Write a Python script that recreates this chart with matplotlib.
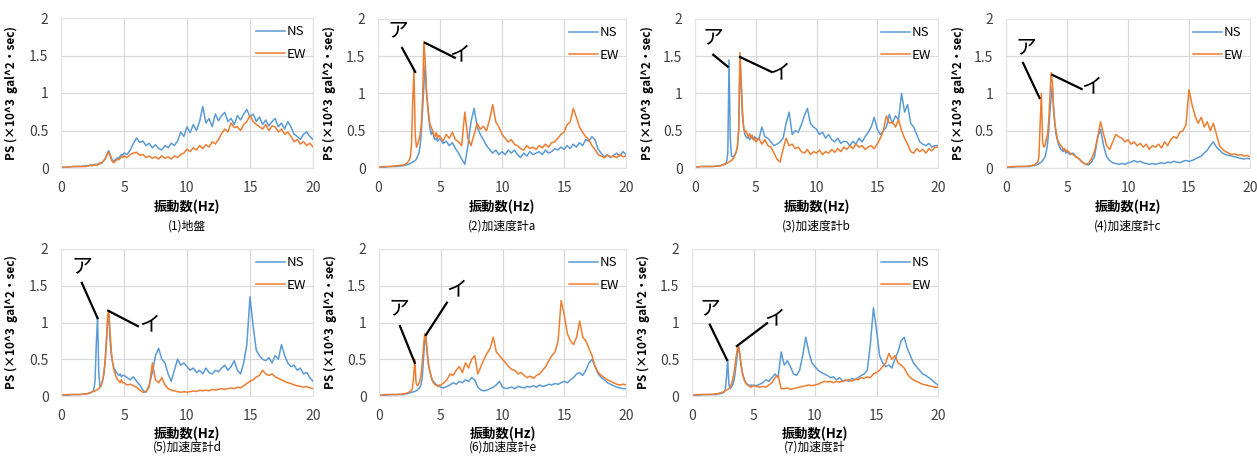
import numpy as np
import matplotlib
matplotlib.use("Agg")
import matplotlib.pyplot as plt

plt.rcParams['font.family'] = ['Noto Sans CJK JP', 'DejaVu Sans']

# frequency grid (Hz): coarse below 2 Hz, fine 2-5 Hz, 0.25 Hz above 5 Hz
freq = np.concatenate([np.arange(0, 2.0, 0.5),
                       np.round(np.arange(2.0, 4.95, 0.1), 1),
                       np.arange(5.0, 20.01, 0.25)])

captions = ['(1)地盤', '(2)加速度計a', '(3)加速度計b', '(4)加速度計c',
            '(5)加速度計d', '(6)加速度計e', '(7)加速度計']

# ---- (1) ground ----
ns1 = [.01, .01, .02, .02,
       .03, .03, .03, .04, .03, .04, .04, .05, .04, .05,
       .06, .07, .06, .08, .10, .12, .16, .21, .23, .18,
       .13, .10, .09, .11, .12, .14, .13, .16, .18, .17,
       .20, .18, .24, .33, .40, .34, .36, .30, .33, .27,
       .31, .26, .24, .30, .27, .33, .30, .36, .48, .42,
       .55, .47, .58, .50, .62, .82, .60, .66, .55, .72,
       .63, .70, .74, .62, .66, .58, .70, .64, .72, .78,
       .68, .72, .62, .68, .58, .64, .56, .62, .66, .55,
       .60, .52, .62, .55, .45, .42, .38, .45, .48, .42,
       .38]
ew1 = [.01, .01, .02, .02,
       .02, .03, .03, .03, .04, .03, .04, .04, .05, .04,
       .05, .06, .07, .08, .10, .12, .16, .19, .21, .16,
       .11, .08, .07, .09, .10, .12, .11, .13, .15, .14,
       .16, .14, .18, .20, .21, .17, .18, .14, .16, .13,
       .15, .12, .16, .13, .15, .12, .16, .14, .18, .20,
       .25, .22, .27, .24, .30, .26, .31, .28, .35, .32,
       .38, .46, .52, .48, .60, .54, .55, .50, .58, .62,
       .70, .62, .58, .55, .52, .58, .50, .56, .55, .48,
       .52, .45, .48, .42, .35, .38, .32, .35, .30, .33,
       .28]

# ---- (2) accelerometer a ----
ns2 = [.01, .01, .02, .02,
       .03, .03, .04, .04, .05, .05, .06, .07, .08, .09,
       .10, .12, .16, .20, .30, .50, .80, 1.10, 1.38, 1.05,
       .85, .65, .52, .45, .50, .42, .38, .40, .36, .38,
       .40, .33, .36, .30, .34, .26, .20, .12, .05, .30,
       .62, .80, .55, .45, .38, .30, .25, .20, .24, .18,
       .22, .18, .24, .20, .24, .18, .14, .20, .16, .22,
       .18, .20, .22, .18, .24, .20, .22, .26, .24, .28,
       .25, .30, .26, .32, .28, .34, .30, .38, .36, .42,
       .38, .25, .20, .15, .18, .14, .17, .20, .16, .22,
       .18]
ew2 = [.01, .02, .02, .03,
       .04, .04, .05, .06, .08, .10, .14, .30, .90, 1.30,
       .45, .28, .32, .38, .45, .60, .95, 1.70, 1.45, 1.05,
       .85, .70, .58, .55, .50, .45, .42, .48, .40, .44,
       .42, .36, .45, .40, .48, .38, .35, .30, .75, .40,
       .30, .45, .60, .52, .56, .50, .65, .85, .62, .55,
       .45, .40, .35, .38, .32, .30, .26, .24, .30, .26,
       .28, .25, .30, .27, .32, .28, .34, .35, .40, .45,
       .48, .58, .62, .80, .68, .55, .48, .42, .38, .30,
       .25, .18, .16, .14, .17, .15, .16, .14, .18, .15,
       .16]

# ---- (3) accelerometer b ----
ns3 = [.01, .02, .02, .02,
       .03, .03, .04, .04, .05, .06, .08, .20, 1.45, .40,
       .16, .15, .16, .18, .22, .30, .50, 1.45, 1.10, .70,
       .55, .45, .42, .40, .42, .38, .40, .44, .38, .42,
       .40, .38, .55, .42, .40, .35, .30, .32, .35, .40,
       .60, .75, .45, .50, .48, .58, .70, .80, .60, .55,
       .52, .45, .48, .40, .45, .38, .35, .40, .33, .36,
       .35, .30, .36, .32, .40, .35, .42, .48, .55, .68,
       .52, .45, .50, .55, .72, .60, .70, .65, 1.00, .75,
       .85, .60, .55, .45, .35, .32, .30, .33, .28, .30,
       .30]
ew3 = [.01, .02, .02, .02,
       .03, .03, .04, .04, .05, .05, .06, .07, .08, .09,
       .10, .12, .14, .18, .22, .30, .55, 1.55, 1.20, .80,
       .55, .48, .50, .45, .42, .46, .40, .44, .38, .40,
       .35, .40, .32, .38, .30, .28, .20, .12, .08, .25,
       .40, .30, .32, .26, .28, .22, .20, .25, .18, .22,
       .20, .24, .18, .22, .20, .25, .21, .26, .22, .28,
       .25, .30, .26, .32, .28, .30, .25, .28, .30, .26,
       .32, .40, .50, .70, .60, .62, .55, .65, .50, .40,
       .32, .22, .20, .26, .22, .25, .20, .26, .23, .28,
       .28]

# ---- (4) accelerometer c ----
ns4 = [.01, .01, .02, .02,
       .02, .03, .03, .03, .04, .04, .05, .06, .07, .08,
       .10, .12, .15, .22, .32, .50, .75, .95, 1.10, .80,
       .60, .45, .38, .32, .28, .25, .24, .22, .25, .20,
       .22, .18, .20, .15, .12, .08, .05, .04, .08, .15,
       .40, .52, .30, .15, .10, .07, .06, .05, .06, .05,
       .07, .08, .10, .08, .09, .07, .06, .05, .06, .05,
       .06, .07, .06, .08, .07, .09, .08, .07, .09, .10,
       .09, .10, .12, .14, .16, .20, .24, .30, .35, .28,
       .24, .20, .18, .17, .16, .15, .14, .13, .12, .13,
       .12]
ew4 = [.01, .02, .02, .02,
       .03, .03, .04, .04, .05, .06, .08, .15, .60, 1.00,
       .35, .28, .30, .38, .45, .62, .95, 1.28, 1.15, .80,
       .60, .50, .40, .35, .32, .30, .28, .25, .26, .22,
       .24, .20, .18, .15, .12, .08, .05, .06, .12, .22,
       .40, .62, .45, .30, .25, .35, .45, .42, .40, .35,
       .38, .32, .35, .30, .33, .28, .32, .25, .30, .28,
       .32, .27, .35, .30, .38, .42, .40, .48, .50, .58,
       1.05, .85, .70, .60, .68, .55, .62, .50, .60, .45,
       .30, .25, .22, .20, .18, .19, .17, .18, .16, .17,
       .15]

# ---- (5) accelerometer d ----
ns5 = [.01, .01, .02, .02,
       .03, .03, .04, .04, .05, .06, .08, .20, .70, 1.08,
       .30, .12, .15, .20, .30, .48, .75, 1.00, 1.10, .75,
       .55, .45, .38, .35, .32, .30, .28, .30, .26, .28,
       .28, .25, .22, .26, .20, .15, .08, .05, .15, .32,
       .55, .65, .50, .45, .30, .20, .35, .50, .42, .45,
       .40, .35, .38, .32, .35, .30, .38, .32, .30, .35,
       .33, .38, .42, .35, .40, .48, .35, .30, .45, .70,
       1.35, .95, .62, .55, .50, .48, .52, .45, .55, .50,
       .70, .55, .45, .40, .42, .35, .38, .30, .32, .25,
       .20]
ew5 = [.01, .02, .02, .02,
       .03, .03, .04, .04, .05, .06, .06, .07, .08, .09,
       .10, .12, .15, .22, .30, .45, .70, 1.10, 1.15, .85,
       .60, .45, .35, .30, .25, .22, .20, .18, .22, .18,
       .18, .15, .16, .14, .12, .08, .05, .06, .12, .45,
       .22, .18, .25, .15, .10, .08, .07, .06, .05, .06,
       .05, .06, .07, .06, .08, .07, .08, .07, .09, .08,
       .09, .10, .09, .10, .11, .10, .12, .11, .14, .17,
       .20, .22, .26, .28, .35, .30, .28, .30, .26, .24,
       .22, .20, .18, .17, .15, .14, .13, .12, .13, .11,
       .10]

# ---- (6) accelerometer e ----
ns6 = [.01, .01, .02, .02,
       .02, .03, .03, .03, .04, .04, .05, .05, .06, .06,
       .07, .08, .10, .12, .15, .25, .50, .75, .80, .60,
       .42, .35, .28, .22, .20, .18, .16, .15, .14, .13,
       .12, .11, .13, .15, .18, .16, .20, .18, .22, .20,
       .25, .22, .12, .08, .07, .08, .10, .12, .15, .20,
       .12, .10, .11, .12, .10, .13, .12, .11, .13, .12,
       .14, .12, .15, .13, .14, .16, .15, .17, .16, .18,
       .20, .18, .22, .25, .30, .32, .28, .35, .45, .50,
       .40, .30, .25, .22, .18, .16, .14, .12, .11, .10,
       .10]
ew6 = [.01, .02, .02, .02,
       .03, .03, .04, .04, .05, .06, .07, .10, .25, .50,
       .18, .14, .16, .20, .28, .45, .65, .85, .80, .60,
       .45, .35, .28, .22, .18, .16, .15, .14, .13, .15,
       .15, .18, .22, .30, .28, .35, .40, .32, .45, .38,
       .50, .55, .30, .40, .50, .58, .65, .80, .60, .55,
       .50, .45, .40, .36, .35, .30, .32, .28, .25, .27,
       .24, .28, .30, .35, .40, .48, .55, .60, .75, 1.30,
       1.10, .85, .75, .70, .80, 1.02, .80, .75, .65, .55,
       .40, .32, .28, .25, .22, .20, .18, .16, .15, .16,
       .15]

# ---- (7) accelerometer ----
ns7 = [.01, .01, .02, .02,
       .02, .03, .03, .03, .04, .04, .05, .08, .25, .50,
       .15, .10, .12, .15, .20, .30, .45, .60, .65, .55,
       .42, .32, .25, .20, .18, .16, .15, .14, .15, .14,
       .15, .14, .16, .18, .22, .20, .25, .30, .25, .60,
       .42, .48, .40, .30, .28, .35, .55, .80, .60, .45,
       .40, .35, .32, .30, .28, .25, .26, .22, .25, .20,
       .22, .20, .24, .22, .25, .28, .30, .35, .70, 1.20,
       .90, .55, .45, .40, .42, .38, .50, .60, .75, .80,
       .65, .55, .45, .40, .35, .30, .28, .25, .22, .18,
       .15]
ew7 = [.01, .02, .02, .02,
       .03, .03, .04, .04, .05, .05, .06, .07, .08, .09,
       .10, .12, .16, .22, .30, .42, .55, .65, .68, .55,
       .40, .30, .25, .20, .17, .15, .14, .13, .12, .13,
       .14, .13, .12, .13, .12, .15, .18, .25, .28, .10,
       .10, .11, .09, .10, .11, .12, .13, .14, .15, .14,
       .15, .16, .18, .20, .19, .20, .18, .20, .19, .20,
       .21, .22, .20, .23, .22, .25, .24, .26, .25, .30,
       .32, .35, .40, .45, .58, .50, .55, .45, .42, .38,
       .30, .25, .22, .20, .18, .16, .15, .14, .13, .12,
       .12]

ns_all = [ns1, ns2, ns3, ns4, ns5, ns6, ns7]
ew_all = [ew1, ew2, ew3, ew4, ew5, ew6, ew7]

# annotation marks: (text pos), (line start), (line end) per label, data coords
notes = [
    [],
    [('ア', (1.6, 1.85), (1.95, 1.61), (3.0, 1.29)),
     ('イ', (6.6, 1.52), (3.8, 1.68), (6.2, 1.48))],
    [('ア', (1.5, 1.76), (1.5, 1.52), (2.7, 1.36)),
     ('イ', (7.0, 1.29), (3.7, 1.49), (6.3, 1.29))],
    [('ア', (1.6, 1.62), (1.4, 1.41), (2.75, 0.94)),
     ('イ', (7.0, 1.09), (3.8, 1.25), (6.2, 1.06))],
    [('ア', (1.65, 1.77), (1.65, 1.54), (2.9, 1.06)),
     ('イ', (7.0, 0.97), (3.75, 1.16), (6.1, 0.95))],
    [('ア', (1.6, 1.2), (1.7, 0.95), (2.9, 0.45)),
     ('イ', (6.3, 1.45), (5.5, 1.27), (3.8, 0.83))],
    [('ア', (1.45, 1.2), (1.45, 0.97), (2.85, 0.49)),
     ('イ', (6.75, 1.06), (6.1, 0.99), (3.65, 0.68))],
]

W, H = 1257, 458
# axes boxes in pixels: left, top(y=2), right, bottom(y=0)
boxes = [(61, 18, 313, 168), (378, 19, 626, 168), (695, 19, 938, 168),
         (1006, 19, 1250, 168),
         (61, 249, 313, 396), (379, 249, 626, 396), (692, 249, 938, 396)]
xlab_off = [39, 39, 39, 39, 38, 38, 38]
cap_off = [58, 58, 58, 58, 51, 51, 51]

c_ns = '#5B9BD5'
c_ew = '#ED7D31'

fig = plt.figure(figsize=(W / 100, H / 100), dpi=100)
for i in range(7):
    l, t, r, b = boxes[i]
    ax = fig.add_axes([l / W, (H - b) / H, (r - l) / W, (b - t) / H])
    ax.plot(freq, ns_all[i], color=c_ns, lw=1.1, label='NS')
    ax.plot(freq, ew_all[i], color=c_ew, lw=1.1, label='EW')
    ax.set_xlim(0, 20)
    ax.set_ylim(0, 2)
    ax.set_xticks([0, 5, 10, 15, 20])
    ax.set_yticks([0, 0.5, 1, 1.5, 2])
    ax.set_yticklabels(['0', '0.5', '1', '1.5', '2'])
    ax.grid(True, color='#D9D9D9', lw=0.9)
    ax.set_axisbelow(True)
    for s in ax.spines.values():
        s.set_color('#E4E4E4')
        s.set_linewidth(0.8)
    ax.tick_params(length=0, labelsize=10, colors='#404040', pad=9)
    ax.set_ylabel('PS (×10^3  gal^2・sec)', fontsize=8.5, fontweight='bold')
    ax.yaxis.set_label_coords(-0.17, 0.5)
    ax.set_xlabel('振動数(Hz)', fontsize=9.5, fontweight='bold', va='center')
    ax.xaxis.set_label_coords(0.5, -xlab_off[i] / (b - t))
    ax.text(0.5, -cap_off[i] / (b - t), captions[i], transform=ax.transAxes,
            ha='center', va='center', fontsize=8.5)
    ax.legend(loc='upper right', bbox_to_anchor=(1.02, 1.03), frameon=False,
              fontsize=9.5, handlelength=2.2, handletextpad=0.1,
              labelspacing=0.7)
    for lab, tp, p0, p1 in notes[i]:
        ax.plot([p0[0], p1[0]], [p0[1], p1[1]], color='black', lw=1.6)
        ax.text(tp[0], tp[1], lab, fontsize=15, ha='center', va='center')

fig.savefig('out.png', dpi=100)
